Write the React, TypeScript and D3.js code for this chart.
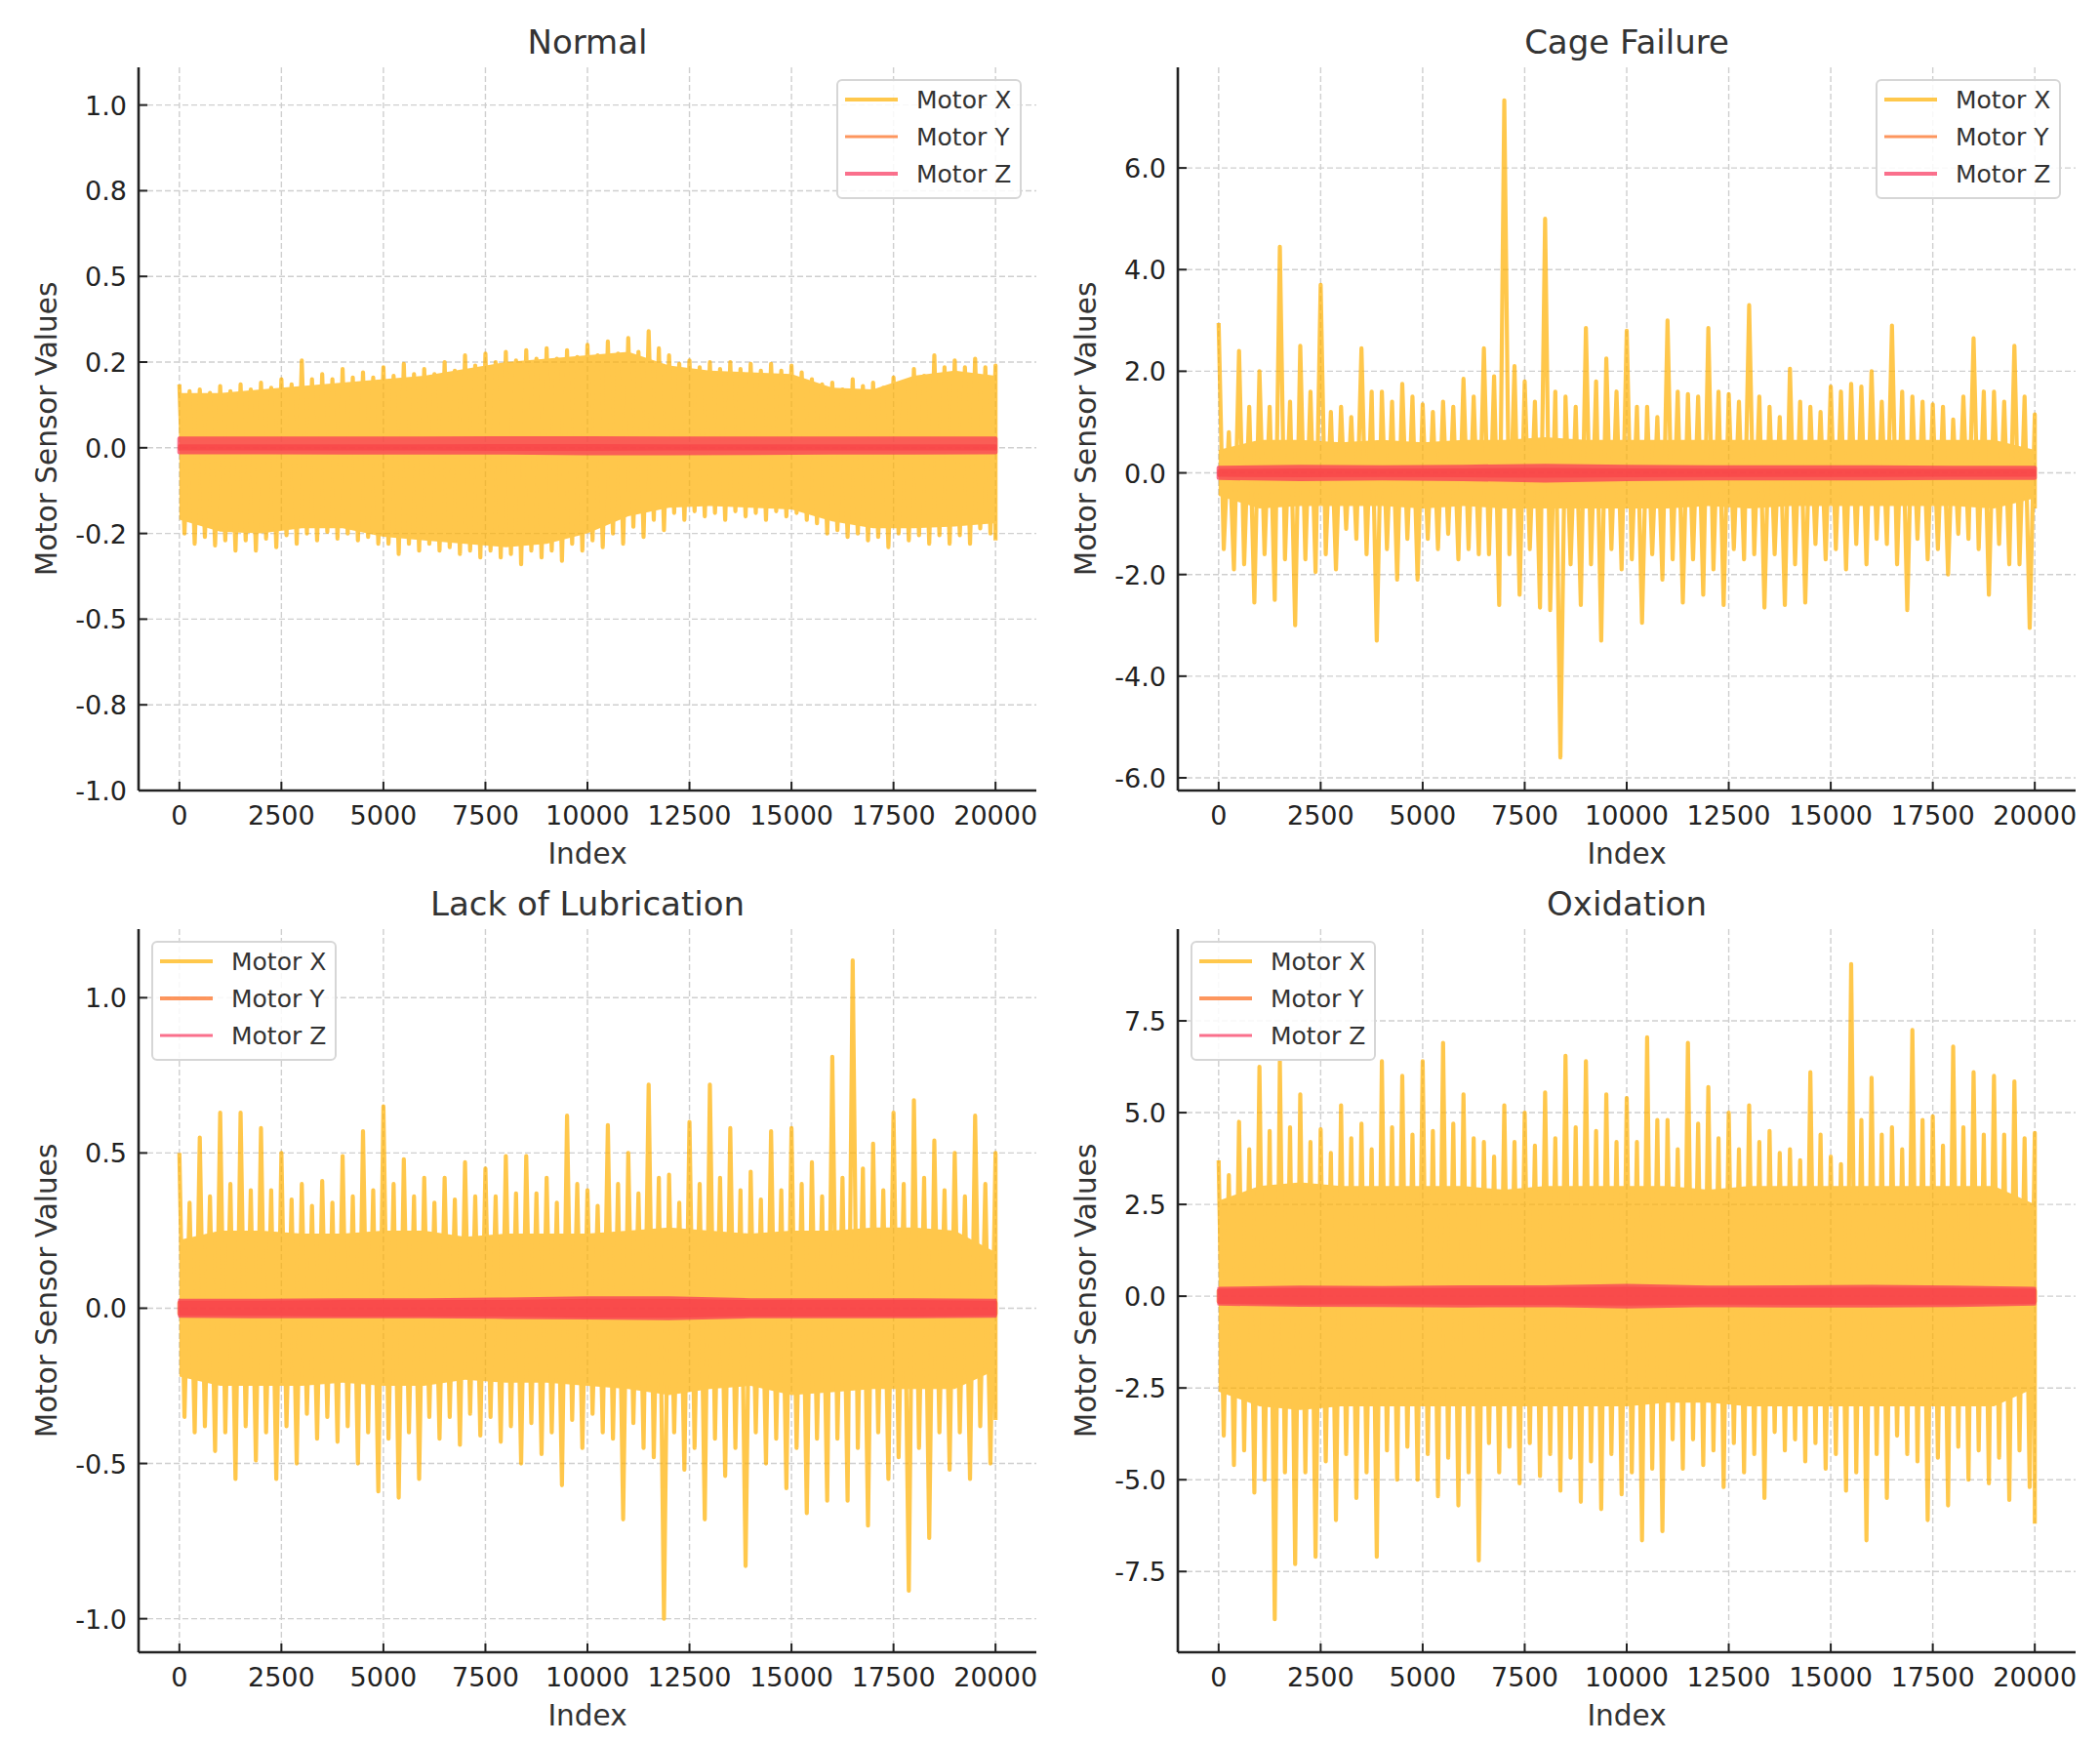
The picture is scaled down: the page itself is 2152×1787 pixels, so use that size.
import * as d3 from "d3";

const FONT = "'DejaVu Sans', sans-serif";
const WIDTH = 2152;
const HEIGHT = 1787;

// axes boxes (pixels)
const COLUMN_LEFT = [142, 1207];
const ROW_TOP = [69, 952];
const AXES_W = 920;
const AXES_H = 741;

const MOTOR_NAMES = ["Motor X", "Motor Y", "Motor Z"];
const MOTOR_COLORS = ["#FFB000", "#FC691A", "#F8335B"];
const LINE_ALPHA = 0.7;

const X_TICKS = [0, 2500, 5000, 7500, 10000, 12500, 15000, 17500, 20000];

// sampling steps of the arrays below (index units)
const PEAK_STEP = 500; // highest / second tips per bin, 41 values
const CORE_STEP = 1000; // dense core, 21 values
const BAND_STEP = 2000; // motor Y / Z band, 11 values

// ---------- Normal ----------
const normalPeakHi = [0.185, 0.17, 0.18, 0.185, 0.19, 0.2, 0.255, 0.215, 0.23, 0.22, 0.235, 0.245, 0.23, 0.25, 0.27, 0.275, 0.28, 0.285, 0.29, 0.285, 0.3, 0.31, 0.32, 0.34, 0.27, 0.255, 0.25, 0.25, 0.245, 0.245, 0.24, 0.2, 0.19, 0.2, 0.19, 0.205, 0.23, 0.27, 0.255, 0.26, 0.24];
const normalPeakLo = [-0.28, -0.285, -0.3, -0.3, -0.29, -0.28, -0.27, -0.265, -0.27, -0.28, -0.31, -0.3, -0.3, -0.31, -0.32, -0.32, -0.34, -0.32, -0.33, -0.3, -0.29, -0.28, -0.26, -0.24, -0.21, -0.2, -0.21, -0.2, -0.21, -0.2, -0.21, -0.25, -0.26, -0.27, -0.29, -0.27, -0.28, -0.28, -0.28, -0.25, -0.27];
const normalTipHi = [0.165, 0.16, 0.165, 0.17, 0.175, 0.185, 0.2, 0.2, 0.205, 0.205, 0.21, 0.215, 0.215, 0.225, 0.24, 0.25, 0.255, 0.26, 0.26, 0.265, 0.27, 0.275, 0.28, 0.29, 0.245, 0.235, 0.23, 0.23, 0.225, 0.225, 0.22, 0.185, 0.17, 0.18, 0.175, 0.19, 0.21, 0.235, 0.235, 0.235, 0.22];
const normalTipLo = [-0.25, -0.26, -0.27, -0.27, -0.265, -0.255, -0.25, -0.245, -0.25, -0.26, -0.28, -0.28, -0.28, -0.29, -0.3, -0.3, -0.31, -0.3, -0.3, -0.28, -0.27, -0.25, -0.23, -0.21, -0.19, -0.185, -0.19, -0.185, -0.19, -0.185, -0.19, -0.22, -0.24, -0.25, -0.26, -0.25, -0.255, -0.255, -0.255, -0.235, -0.24];
const normalCoreHi = [0.16, 0.16, 0.17, 0.18, 0.19, 0.2, 0.21, 0.23, 0.25, 0.26, 0.27, 0.28, 0.24, 0.225, 0.22, 0.215, 0.175, 0.17, 0.21, 0.225, 0.21];
const normalCoreLo = [-0.21, -0.245, -0.25, -0.235, -0.235, -0.26, -0.27, -0.28, -0.29, -0.28, -0.25, -0.2, -0.175, -0.17, -0.175, -0.18, -0.215, -0.235, -0.235, -0.23, -0.22];
const normalYHi = [0.006, 0.006, 0.006, 0.006, 0.007, 0.007, 0.006, 0.006, 0.006, 0.006, 0.006];
const normalYLo = [-0.004, -0.004, -0.004, -0.004, -0.005, -0.005, -0.004, -0.004, -0.004, -0.004, -0.004];
const normalZHi = [0.027, 0.027, 0.027, 0.027, 0.028, 0.028, 0.027, 0.027, 0.027, 0.027, 0.027];
const normalZLo = [-0.013, -0.013, -0.014, -0.014, -0.014, -0.016, -0.016, -0.015, -0.014, -0.014, -0.013];
const normalYTicks = [-1.0, -0.75, -0.5, -0.25, 0, 0.25, 0.5, 0.75, 1.0];
const normalYLabels = ["-1.0", "-0.8", "-0.5", "-0.2", "0.0", "0.2", "0.5", "0.8", "1.0"];

// ---------- Cage Failure ----------
const cagePeakHi = [2.95, 2.4, 2.0, 4.45, 2.5, 3.7, 1.3, 2.45, 1.6, 1.75, 1.35, 1.4, 1.85, 2.45, 7.33, 1.8, 5.0, 1.5, 2.85, 2.25, 2.8, 1.3, 3.0, 1.55, 2.85, 1.55, 3.3, 1.3, 2.05, 1.3, 1.7, 1.75, 2.0, 2.9, 1.5, 1.35, 1.05, 2.65, 1.6, 2.5, 1.15];
const cagePeakLo = [-1.9, -2.55, -2.5, -3.0, -1.95, -1.9, -1.3, -3.3, -2.1, -2.1, -1.5, -1.7, -1.6, -2.6, -2.4, -2.65, -5.6, -2.6, -3.3, -1.9, -2.95, -2.1, -2.55, -2.4, -2.6, -1.7, -2.65, -2.6, -2.55, -1.7, -1.9, -1.8, -1.4, -2.7, -1.7, -2.0, -1.3, -2.4, -1.8, -3.05, -0.7];
const cageTipHi = [0.8, 1.3, 1.3, 1.4, 1.6, 1.2, 1.1, 1.6, 1.4, 1.5, 1.2, 1.3, 1.5, 1.9, 2.1, 1.4, 1.6, 1.3, 1.8, 1.6, 1.3, 1.1, 1.6, 1.5, 1.6, 1.4, 1.5, 1.1, 1.4, 1.2, 1.6, 1.7, 1.4, 1.6, 1.4, 1.3, 1.5, 1.6, 1.4, 1.5, 0.9];
const cageTipLo = [-1.5, -1.8, -1.6, -1.7, -1.7, -1.6, -1.1, -1.6, -1.5, -1.3, -1.3, -1.2, -1.5, -1.6, -1.6, -1.5, -2.7, -1.8, -1.8, -1.5, -1.7, -1.6, -1.7, -1.7, -1.9, -1.5, -1.6, -1.6, -1.8, -1.4, -1.5, -1.4, -1.3, -1.8, -1.3, -1.5, -1.2, -1.5, -1.4, -1.8, -0.6];
const cageCoreHi = [0.45, 0.65, 0.65, 0.6, 0.65, 0.6, 0.65, 0.65, 0.7, 0.65, 0.65, 0.65, 0.65, 0.65, 0.65, 0.65, 0.65, 0.65, 0.65, 0.65, 0.45];
const cageCoreLo = [-0.45, -0.7, -0.65, -0.65, -0.65, -0.7, -0.65, -0.7, -0.7, -0.7, -0.7, -0.7, -0.65, -0.7, -0.65, -0.65, -0.65, -0.65, -0.65, -0.7, -0.5];
const cageYHi = [0.05, 0.06, 0.055, 0.06, 0.07, 0.06, 0.055, 0.055, 0.055, 0.05, 0.05];
const cageYLo = [-0.05, -0.06, -0.055, -0.06, -0.07, -0.06, -0.055, -0.055, -0.055, -0.05, -0.05];
const cageZHi = [0.1, 0.12, 0.11, 0.12, 0.14, 0.12, 0.11, 0.11, 0.11, 0.1, 0.1];
const cageZLo = [-0.1, -0.12, -0.11, -0.12, -0.15, -0.12, -0.11, -0.11, -0.11, -0.1, -0.1];
const cageYTicks = [-6, -4, -2, 0, 2, 4, 6];
const cageYLabels = ["-6.0", "-4.0", "-2.0", "0.0", "2.0", "4.0", "6.0"];

// ---------- Lack of Lubrication ----------
const lackPeakHi = [0.5, 0.55, 0.63, 0.63, 0.58, 0.5, 0.4, 0.41, 0.49, 0.57, 0.65, 0.48, 0.42, 0.42, 0.47, 0.45, 0.49, 0.49, 0.42, 0.62, 0.38, 0.59, 0.5, 0.72, 0.43, 0.6, 0.72, 0.58, 0.44, 0.57, 0.58, 0.47, 0.81, 1.12, 0.53, 0.63, 0.67, 0.54, 0.5, 0.62, 0.5];
const lackPeakLo = [-0.4, -0.46, -0.55, -0.49, -0.55, -0.5, -0.42, -0.43, -0.5, -0.59, -0.61, -0.55, -0.42, -0.44, -0.41, -0.43, -0.5, -0.47, -0.57, -0.45, -0.4, -0.68, -0.45, -1.0, -0.52, -0.68, -0.54, -0.83, -0.5, -0.58, -0.66, -0.62, -0.62, -0.7, -0.55, -0.91, -0.74, -0.52, -0.55, -0.5, -0.36];
const lackTipHi = [0.34, 0.36, 0.4, 0.38, 0.38, 0.35, 0.33, 0.34, 0.36, 0.38, 0.4, 0.36, 0.34, 0.35, 0.36, 0.36, 0.37, 0.37, 0.34, 0.4, 0.33, 0.4, 0.37, 0.42, 0.34, 0.4, 0.42, 0.38, 0.35, 0.38, 0.4, 0.36, 0.42, 0.45, 0.38, 0.4, 0.42, 0.38, 0.36, 0.4, 0.3];
const lackTipLo = [-0.35, -0.38, -0.4, -0.38, -0.4, -0.38, -0.34, -0.35, -0.38, -0.4, -0.42, -0.4, -0.35, -0.35, -0.34, -0.35, -0.38, -0.37, -0.4, -0.36, -0.34, -0.42, -0.37, -0.48, -0.4, -0.45, -0.42, -0.45, -0.4, -0.42, -0.45, -0.42, -0.42, -0.45, -0.4, -0.48, -0.45, -0.4, -0.4, -0.38, -0.3];
const lackCoreHi = [0.22, 0.25, 0.25, 0.24, 0.24, 0.25, 0.25, 0.23, 0.24, 0.24, 0.24, 0.25, 0.26, 0.25, 0.24, 0.25, 0.25, 0.26, 0.26, 0.25, 0.18];
const lackCoreLo = [-0.22, -0.25, -0.25, -0.25, -0.24, -0.25, -0.25, -0.23, -0.24, -0.24, -0.25, -0.26, -0.28, -0.26, -0.25, -0.28, -0.27, -0.26, -0.26, -0.26, -0.2];
const lackYHi = [0.018, 0.018, 0.02, 0.02, 0.02, 0.024, 0.024, 0.02, 0.02, 0.02, 0.018];
const lackYLo = [-0.018, -0.018, -0.02, -0.02, -0.02, -0.024, -0.024, -0.02, -0.02, -0.02, -0.018];
const lackZHi = [0.026, 0.026, 0.028, 0.028, 0.03, 0.034, 0.034, 0.028, 0.028, 0.028, 0.026];
const lackZLo = [-0.026, -0.028, -0.028, -0.028, -0.03, -0.032, -0.034, -0.028, -0.028, -0.028, -0.026];
const lackYTicks = [-1.0, -0.5, 0, 0.5, 1.0];
const lackYLabels = ["-1.0", "-0.5", "0.0", "0.5", "1.0"];

// ---------- Oxidation ----------
const oxPeakHi = [3.7, 4.75, 6.25, 6.4, 5.5, 4.55, 5.2, 4.7, 6.4, 6.0, 6.4, 6.9, 5.5, 4.2, 5.2, 5.0, 5.55, 6.55, 6.4, 5.5, 5.4, 7.05, 4.8, 6.9, 5.7, 5.0, 5.2, 4.5, 4.0, 6.1, 3.8, 9.05, 5.95, 4.6, 7.25, 4.9, 6.8, 6.1, 6.0, 5.85, 4.45];
const oxPeakLo = [-4.6, -5.35, -8.8, -7.3, -7.1, -6.1, -5.5, -7.1, -5.0, -5.0, -5.45, -5.7, -7.2, -4.8, -5.1, -4.9, -5.3, -5.6, -5.8, -5.4, -6.65, -6.4, -4.7, -4.6, -5.2, -4.8, -5.5, -4.2, -4.5, -4.7, -5.3, -6.65, -5.5, -4.3, -6.1, -5.7, -5.0, -5.1, -5.55, -5.2, -6.2];
const oxTipHi = [3.3, 4.0, 4.5, 4.6, 4.2, 3.9, 4.3, 4.0, 4.6, 4.4, 4.5, 4.7, 4.3, 3.8, 4.2, 4.1, 4.3, 4.6, 4.5, 4.2, 4.2, 4.8, 4.0, 4.7, 4.3, 4.0, 4.2, 3.9, 3.7, 4.4, 3.6, 4.8, 4.4, 4.0, 4.8, 4.1, 4.6, 4.4, 4.4, 4.3, 3.8];
const oxTipLo = [-3.8, -4.2, -5.0, -4.8, -4.8, -4.5, -4.3, -4.8, -4.2, -4.1, -4.3, -4.4, -4.8, -4.0, -4.1, -4.0, -4.3, -4.4, -4.5, -4.3, -4.8, -4.7, -3.9, -3.9, -4.2, -4.0, -4.3, -3.7, -3.9, -4.0, -4.3, -4.8, -4.3, -3.8, -4.5, -4.4, -4.1, -4.2, -4.4, -4.2, -4.5];
const oxCoreHi = [2.6, 3.0, 3.1, 3.0, 3.0, 3.0, 3.0, 2.9, 3.0, 3.0, 3.0, 3.0, 2.9, 3.0, 3.0, 3.0, 3.0, 3.0, 3.0, 3.0, 2.5];
const oxCoreLo = [-2.6, -3.0, -3.1, -3.0, -3.0, -3.0, -3.0, -3.0, -3.0, -3.0, -3.0, -2.9, -2.9, -3.0, -3.0, -3.0, -3.0, -3.0, -3.0, -3.0, -2.5];
const oxYHi = [0.15, 0.17, 0.16, 0.17, 0.18, 0.2, 0.17, 0.17, 0.18, 0.17, 0.15];
const oxYLo = [-0.15, -0.17, -0.16, -0.18, -0.18, -0.2, -0.17, -0.18, -0.18, -0.17, -0.15];
const oxZHi = [0.22, 0.25, 0.24, 0.26, 0.26, 0.3, 0.25, 0.26, 0.27, 0.25, 0.22];
const oxZLo = [-0.22, -0.25, -0.26, -0.27, -0.26, -0.3, -0.26, -0.27, -0.27, -0.26, -0.22];
const oxYTicks = [-7.5, -5, -2.5, 0, 2.5, 5, 7.5];
const oxYLabels = ["-7.5", "-5.0", "-2.5", "0.0", "2.5", "5.0", "7.5"];

interface PanelSpec {
  title: string;
  col: number;
  row: number;
  yDomain: [number, number];
  yTicks: number[];
  yLabels: string[];
  peakHi: number[];
  peakLo: number[];
  tipHi: number[];
  tipLo: number[];
  coreHi: number[];
  coreLo: number[];
  bandHi: number[][]; // [motor Y, motor Z]
  bandLo: number[][];
  widths: number[]; // line widths X, Y, Z
  legendLeft: boolean;
}

const PANELS: PanelSpec[] = [
  {
    title: "Normal", col: 0, row: 0, yDomain: [-1.0, 1.11],
    yTicks: normalYTicks, yLabels: normalYLabels,
    peakHi: normalPeakHi, peakLo: normalPeakLo, tipHi: normalTipHi, tipLo: normalTipLo,
    coreHi: normalCoreHi, coreLo: normalCoreLo,
    bandHi: [normalYHi, normalZHi], bandLo: [normalYLo, normalZLo],
    widths: [4.2, 2.8, 4.2], legendLeft: false,
  },
  {
    title: "Cage Failure", col: 1, row: 0, yDomain: [-6.25, 7.98],
    yTicks: cageYTicks, yLabels: cageYLabels,
    peakHi: cagePeakHi, peakLo: cagePeakLo, tipHi: cageTipHi, tipLo: cageTipLo,
    coreHi: cageCoreHi, coreLo: cageCoreLo,
    bandHi: [cageYHi, cageZHi], bandLo: [cageYLo, cageZLo],
    widths: [4.2, 2.8, 4.2], legendLeft: false,
  },
  {
    title: "Lack of Lubrication", col: 0, row: 1, yDomain: [-1.108, 1.221],
    yTicks: lackYTicks, yLabels: lackYLabels,
    peakHi: lackPeakHi, peakLo: lackPeakLo, tipHi: lackTipHi, tipLo: lackTipLo,
    coreHi: lackCoreHi, coreLo: lackCoreLo,
    bandHi: [lackYHi, lackZHi], bandLo: [lackYLo, lackZLo],
    widths: [4.2, 4.2, 2.8], legendLeft: true,
  },
  {
    title: "Oxidation", col: 1, row: 1, yDomain: [-9.7, 10.0],
    yTicks: oxYTicks, yLabels: oxYLabels,
    peakHi: oxPeakHi, peakLo: oxPeakLo, tipHi: oxTipHi, tipLo: oxTipLo,
    coreHi: oxCoreHi, coreLo: oxCoreLo,
    bandHi: [oxYHi, oxZHi], bandLo: [oxYLo, oxZLo],
    widths: [4.2, 4.2, 2.8], legendLeft: true,
  },
];

const LEGEND_W = 188;
const LEGEND_H = 121;

function Panel({ spec }: { spec: PanelSpec }) {
  const left = COLUMN_LEFT[spec.col];
  const top = ROW_TOP[spec.row];

  const x = d3.scaleLinear().domain([-1000, 21000]).range([0, AXES_W]);
  const y = d3.scaleLinear().domain(spec.yDomain).range([AXES_H, 0]);

  // motor X: within each bin go highest tip -> second low -> second high -> lowest tip
  const q = PEAK_STEP / 4;
  const peakPts: [number, number][] = spec.peakHi.flatMap((v, k) => {
    const s = k * PEAK_STEP;
    const pts: [number, number][] = [[s, v]];
    if (s < 20000) {
      pts.push([s + q, spec.tipLo[k]], [s + 2 * q, spec.tipHi[k]], [s + 3 * q, spec.peakLo[k]]);
    } else {
      pts.push([s, spec.peakLo[k]]);
    }
    return pts;
  });
  const line = d3
    .line<[number, number]>()
    .x((d) => x(d[0]))
    .y((d) => y(d[1]));

  const coreArea = d3
    .area<number>()
    .x((_, i) => x(i * CORE_STEP))
    .y0((_, i) => y(spec.coreLo[i]))
    .y1((d) => y(d));

  const bandArea = (lo: number[]) =>
    d3
      .area<number>()
      .x((_, i) => x(i * BAND_STEP))
      .y0((_, i) => y(lo[i]))
      .y1((d) => y(d));

  const legendX = spec.legendLeft ? 14 : AXES_W - 16 - LEGEND_W;
  const legendY = 13;

  return (
    <g transform={`translate(${left},${top})`}>
      {/* grid */}
      {X_TICKS.map((t) => (
        <line key={`gx${t}`} x1={x(t)} x2={x(t)} y1={0} y2={AXES_H}
          stroke="#cfcfcf" strokeWidth={1.4} strokeDasharray="6,3" />
      ))}
      {spec.yTicks.map((t) => (
        <line key={`gy${t}`} x1={0} x2={AXES_W} y1={y(t)} y2={y(t)}
          stroke="#cfcfcf" strokeWidth={1.4} strokeDasharray="6,3" />
      ))}

      {/* Motor X */}
      <g opacity={LINE_ALPHA}>
        <path d={coreArea(spec.coreHi) ?? ""} fill={MOTOR_COLORS[0]} />
        <path d={line(peakPts) ?? ""} fill="none" stroke={MOTOR_COLORS[0]}
          strokeWidth={spec.widths[0]} strokeLinejoin="round" />
      </g>
      {/* Motor Y, Motor Z */}
      {[0, 1].map((m) => (
        <g key={m} opacity={LINE_ALPHA}>
          <path d={bandArea(spec.bandLo[m])(spec.bandHi[m]) ?? ""}
            fill={MOTOR_COLORS[m + 1]} stroke={MOTOR_COLORS[m + 1]}
            strokeWidth={spec.widths[m + 1]} strokeLinejoin="round" />
        </g>
      ))}

      {/* spines */}
      <line x1={0} x2={0} y1={0} y2={AXES_H} stroke="#222" strokeWidth={2.6} />
      <line x1={0} x2={AXES_W} y1={AXES_H} y2={AXES_H} stroke="#222" strokeWidth={2.6} />

      {/* x ticks */}
      {X_TICKS.map((t) => (
        <g key={`tx${t}`}>
          <line x1={x(t)} x2={x(t)} y1={AXES_H} y2={AXES_H - 9} stroke="#222" strokeWidth={2} />
          <text x={x(t)} y={AXES_H + 35} textAnchor="middle" fontSize={27} fill="#222">{t}</text>
        </g>
      ))}
      {/* y ticks */}
      {spec.yTicks.map((t, i) => (
        <g key={`ty${t}`}>
          <line x1={0} x2={9} y1={y(t)} y2={y(t)} stroke="#222" strokeWidth={2} />
          <text x={-12} y={y(t) + 10} textAnchor="end" fontSize={27} fill="#222">{spec.yLabels[i]}</text>
        </g>
      ))}

      {/* labels */}
      <text x={AXES_W / 2} y={-14} textAnchor="middle" fontSize={34} fill="#333">{spec.title}</text>
      <text x={AXES_W / 2} y={AXES_H + 75} textAnchor="middle" fontSize={29.5} fill="#333">Index</text>
      <text transform={`translate(-94,${AXES_H / 2}) rotate(-90)`} textAnchor="middle"
        dominantBaseline="central" fontSize={29.5} fill="#333">Motor Sensor Values</text>

      {/* legend */}
      <g transform={`translate(${legendX},${legendY})`}>
        <rect width={LEGEND_W} height={LEGEND_H} rx={5} fill="#fff" fillOpacity={0.85}
          stroke="#d6d6d6" strokeWidth={2} />
        {MOTOR_NAMES.map((name, i) => (
          <g key={name} transform={`translate(0,${20 + i * 38})`}>
            <line x1={8} x2={62} y1={0} y2={0} stroke={MOTOR_COLORS[i]}
              strokeOpacity={LINE_ALPHA} strokeWidth={spec.widths[i]} />
            <text x={81} y={9} fontSize={25} fill="#333">{name}</text>
          </g>
        ))}
      </g>
    </g>
  );
}

export default function App() {
  return (
    <svg width={WIDTH} height={HEIGHT} viewBox={`0 0 ${WIDTH} ${HEIGHT}`}
      style={{ position: "absolute", left: 0, top: 0, background: "#fff" }}
      fontFamily={FONT}>
      <rect width={WIDTH} height={HEIGHT} fill="#fff" />
      {PANELS.map((p) => (
        <Panel key={p.title} spec={p} />
      ))}
    </svg>
  );
}
